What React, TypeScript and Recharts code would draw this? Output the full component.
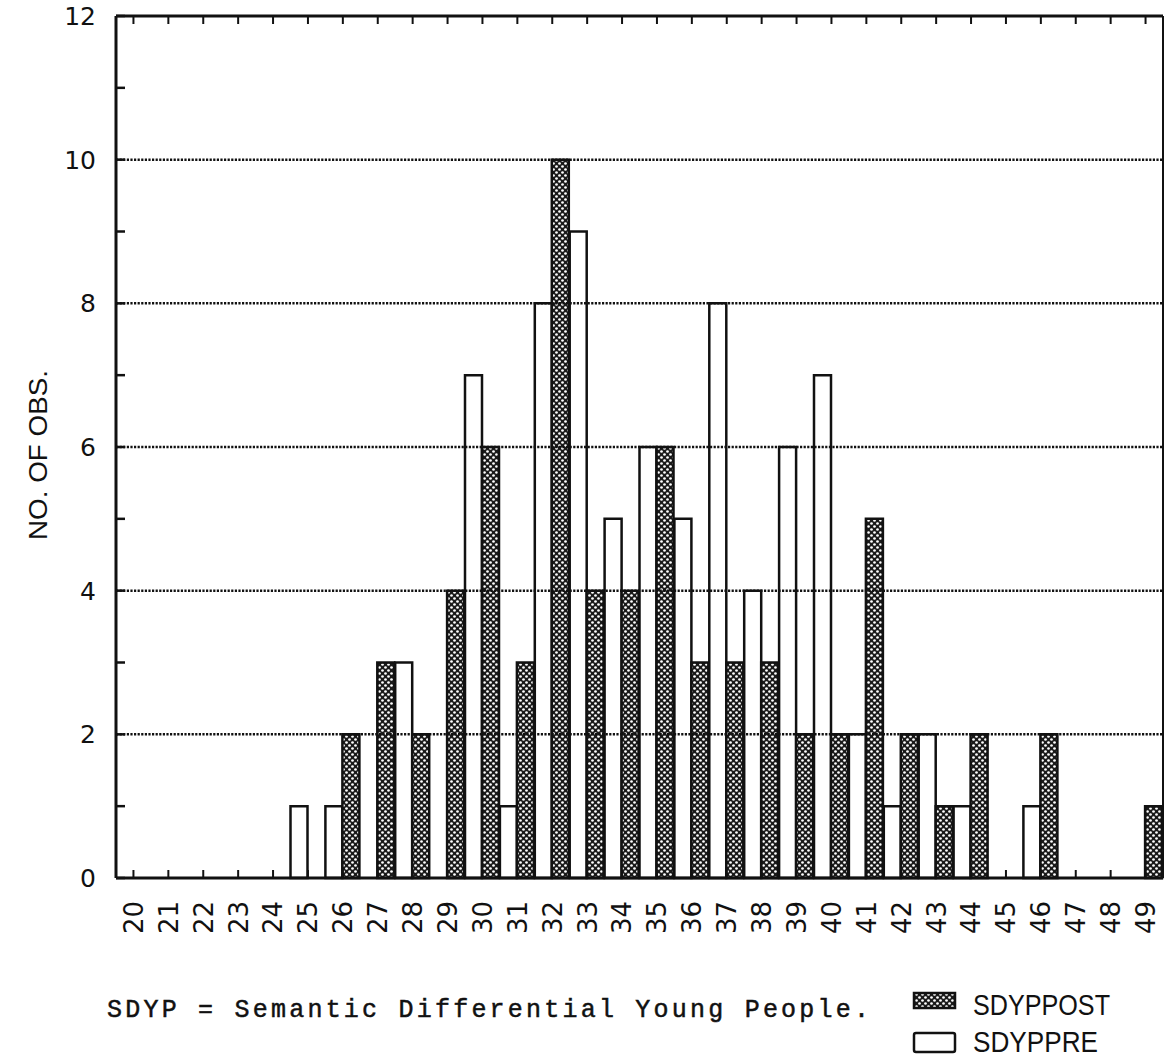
import React from "react"
import { BarChart, Bar, XAxis, YAxis, ReferenceLine } from "recharts"

const CATEGORIES = [
  "20", "21", "22", "23", "24", "25", "26", "27", "28", "29",
  "30", "31", "32", "33", "34", "35", "36", "37", "38", "39",
  "40", "41", "42", "43", "44", "45", "46", "47", "48", "49",
]
const SDYPPRE = [0, 0, 0, 0, 0, 1, 1, 0, 3, 0, 7, 1, 8, 9, 5, 6, 5, 8, 4, 6, 7, 2, 1, 2, 1, 0, 1, 0, 0, 0]
const SDYPPOST = [0, 0, 0, 0, 0, 0, 2, 3, 2, 4, 6, 3, 10, 4, 4, 6, 3, 3, 3, 2, 2, 5, 2, 1, 2, 0, 2, 0, 0, 1]
const Y_TICKS = [0, 1, 2, 3, 4, 5, 6, 7, 8, 9, 10, 11, 12]
const GRID_VALUES = [2, 4, 6, 8, 10]

const data = CATEGORIES.map((cat, i) => ({ cat, pre: SDYPPRE[i], post: SDYPPOST[i] }))

const INK = "#111"
const TICK_FONT = "DejaVu Sans, sans-serif"

// left axis: tick marks point into the plot, labels only on even values
function LeftTick(props: any) {
  const { x, y, payload } = props
  const v = payload.value as number
  return (
    <g>
      <line x1={x} x2={x + 9} y1={y} y2={y} stroke={INK} strokeWidth={2.5} />
      {v % 2 === 0 && (
        <text x={x - 20} y={y} dy="0.36em" textAnchor="end" fontSize={25} fontFamily={TICK_FONT} fill={INK}>
          {v}
        </text>
      )}
    </g>
  )
}

function RightTick(props: any) {
  const { x, y } = props
  return <line x1={x} x2={x - 8} y1={y} y2={y} stroke={INK} strokeWidth={2.5} />
}

function BottomTick(props: any) {
  const { x, y, payload } = props
  return (
    <g>
      <line x1={x} x2={x} y1={y} y2={y - 8} stroke={INK} strokeWidth={2} />
      <text
        x={x}
        y={y + 23}
        dy="0.36em"
        textAnchor="end"
        transform={`rotate(-90, ${x}, ${y + 23})`}
        fontSize={26}
        fontFamily={TICK_FONT}
        fill={INK}
      >
        {payload.value}
      </text>
    </g>
  )
}

function TopTick(props: any) {
  const { x, y } = props
  return <line x1={x} x2={x} y1={y} y2={y + 8} stroke={INK} strokeWidth={2} />
}

export default function App() {
  return (
    <div
      style={{
        position: "absolute",
        left: 0,
        top: 0,
        width: 1164,
        height: 1059,
        overflow: "hidden",
        background: "#fff",
      }}
    >
      <BarChart
        width={1166}
        height={1059}
        data={data}
        margin={{ top: 15, right: 0, bottom: 0, left: 0 }}
        barSize={17}
        barGap={0}
      >
        <XAxis
          xAxisId="bottom"
          dataKey="cat"
          orientation="bottom"
          height={181}
          interval={0}
          tickSize={0}
          tickMargin={0}
          axisLine={{ stroke: INK, strokeWidth: 3 }}
          tick={BottomTick}
        />
        <XAxis
          xAxisId="top"
          dataKey="cat"
          orientation="top"
          height={1}
          interval={0}
          tickSize={0}
          tickMargin={0}
          axisLine={{ stroke: INK, strokeWidth: 3 }}
          tick={TopTick}
        />
        <YAxis
          yAxisId="left"
          domain={[0, 12]}
          ticks={Y_TICKS}
          interval={0}
          width={116}
          tickSize={0}
          tickMargin={0}
          axisLine={{ stroke: INK, strokeWidth: 3 }}
          tick={LeftTick}
        />
        <YAxis
          yAxisId="right"
          orientation="right"
          domain={[0, 12]}
          ticks={Y_TICKS}
          interval={0}
          width={3}
          tickSize={0}
          tickMargin={0}
          axisLine={{ stroke: INK, strokeWidth: 2 }}
          tick={RightTick}
        />
        {GRID_VALUES.map((v) => (
          <ReferenceLine
            key={v}
            xAxisId="bottom"
            yAxisId="left"
            y={v}
            stroke={INK}
            strokeWidth={2.5}
            strokeDasharray="2.2 1.4"
          />
        ))}
        <Bar
          xAxisId="bottom"
          yAxisId="left"
          dataKey="pre"
          fill="#fff"
          stroke={INK}
          strokeWidth={2.5}
          isAnimationActive={false}
        />
        <Bar
          xAxisId="bottom"
          yAxisId="left"
          dataKey="post"
          fill="url(#hatch)"
          stroke={INK}
          strokeWidth={2.5}
          isAnimationActive={false}
        />
      </BarChart>

      <svg
        width={1164}
        height={1059}
        style={{ position: "absolute", left: 0, top: 0, pointerEvents: "none" }}
      >
        <defs>
          <pattern id="hatch" width={6} height={6} patternUnits="userSpaceOnUse">
            <rect width={6} height={6} fill="#1a1a1a" />
            <circle cx={1.5} cy={1.5} r={1.35} fill="#fff" />
            <circle cx={4.5} cy={4.5} r={1.35} fill="#fff" />
          </pattern>
        </defs>
        <text
          x={38}
          y={455}
          dy="0.36em"
          textAnchor="middle"
          transform="rotate(-90, 38, 455)"
          fontSize={25}
          fontFamily="Liberation Sans, sans-serif"
          textLength={170}
          lengthAdjust="spacingAndGlyphs"
          fill={INK}
        >
          NO. OF OBS.
        </text>
        <text
          x={107}
          y={1017}
          fontSize={25}
          fontFamily="Liberation Mono, monospace"
          stroke={INK}
          strokeWidth={0.5}
          textLength={762}
          lengthAdjust="spacing"
          fill={INK}
        >
          SDYP = Semantic Differential Young People.
        </text>
        <rect x={914} y={993} width={41} height={15} fill="url(#hatch)" stroke={INK} strokeWidth={2.5} />
        <text
          x={973}
          y={1015}
          fontSize={29}
          fontFamily="Liberation Sans, sans-serif"
          textLength={137}
          lengthAdjust="spacingAndGlyphs"
          fill={INK}
        >
          SDYPPOST
        </text>
        <rect x={914} y={1033} width={41} height={19} rx={2} fill="#fff" stroke={INK} strokeWidth={2.5} />
        <text
          x={973}
          y={1052}
          fontSize={29}
          fontFamily="Liberation Sans, sans-serif"
          textLength={125}
          lengthAdjust="spacingAndGlyphs"
          fill={INK}
        >
          SDYPPRE
        </text>
      </svg>
    </div>
  )
}
